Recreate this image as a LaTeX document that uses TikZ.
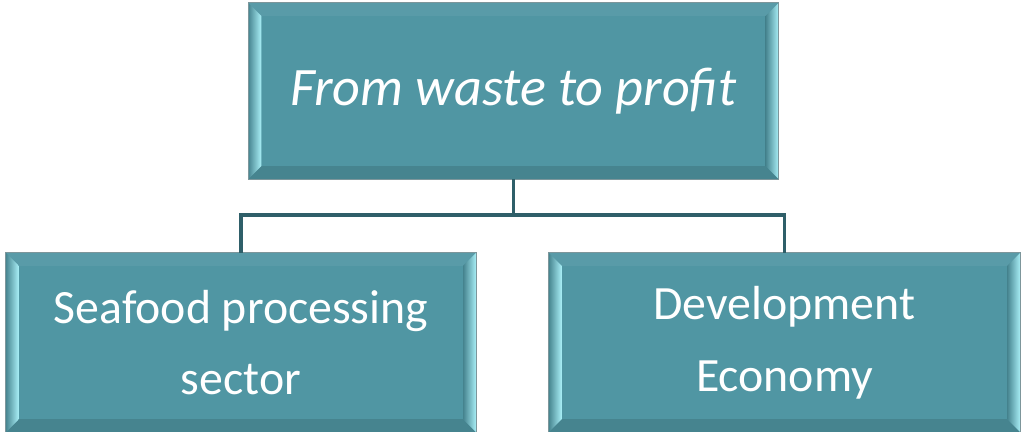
\documentclass[tikz,border=0pt]{standalone}
\usepackage{fontspec}
\setmainfont{Carlito}
\usetikzlibrary{positioning}

\definecolor{tealface}{RGB}{80,150,163}
\definecolor{tealdark}{RGB}{70,132,143}
\definecolor{teallight}{RGB}{170,240,248}
\definecolor{linkteal}{RGB}{47,95,105}
\definecolor{rimgray}{RGB}{125,150,155}

% bevelled edge of a box node
\newcommand{\bevel}[1]{%
  \coordinate (#1-a) at ([shift={(0.33cm,-0.33cm)}]#1.north west);
  \coordinate (#1-b) at ([shift={(-0.33cm,-0.33cm)}]#1.north east);
  \coordinate (#1-c) at ([shift={(-0.33cm,0.33cm)}]#1.south east);
  \coordinate (#1-d) at ([shift={(0.33cm,0.33cm)}]#1.south west);
  \fill[tealface!95!white] (#1.north west) -- (#1.north east) -- (#1-b) -- (#1-a) -- cycle;
  \fill[tealdark] (#1.south west) -- (#1.south east) -- (#1-c) -- (#1-d) -- cycle;
  \shade[left color=tealdark,right color=teallight] (#1.north west) -- (#1-a) -- (#1-d) -- (#1.south west) -- cycle;
  \shade[left color=tealdark,right color=teallight] (#1.north east) -- (#1-b) -- (#1-c) -- (#1.south east) -- cycle;
  \draw[rimgray,line width=0.6pt] (#1.north west) rectangle (#1.south east);
}

\begin{document}
\begin{tikzpicture}[x=0.025cm,y=0.025cm]
\tikzset{box/.style={rectangle,fill=tealface,text=white,align=center,inner sep=0pt}}
\tikzset{link/.style={draw=linkteal,line width=2.4pt}}
\useasboundingbox (0,0) rectangle (1023,432);

\node[box,minimum width=13.25cm,minimum height=4.4cm] (goal) at (513.5,341) {};
\node[box,minimum width=11.75cm,minimum height=4.48cm] (seafood) at (241,89.5) {};
\node[box,minimum width=11.78cm,minimum height=4.48cm] (econ) at (784.5,89.5) {};

\bevel{goal}
\bevel{seafood}
\bevel{econ}

% texts on top of the bevel
\node[text=white,font=\fontsize{38.5}{46}\selectfont\itshape] (goaltext) at (goal) {From waste to profit};
\node[text=white,align=center,font=\fontsize{34}{51}\selectfont] (seafoodtext) at (seafood) {Seafood processing\\sector};
\node[text=white,align=center,font=\fontsize{34}{51}\selectfont] (econtext) at (econ) {Development\\Economy};

\coordinate (split) at (513.5,217);
\draw[link] (goal.south) -- (split) -| (seafood.north);
\draw[link] (split) -| (econ.north);
\end{tikzpicture}
\end{document}
